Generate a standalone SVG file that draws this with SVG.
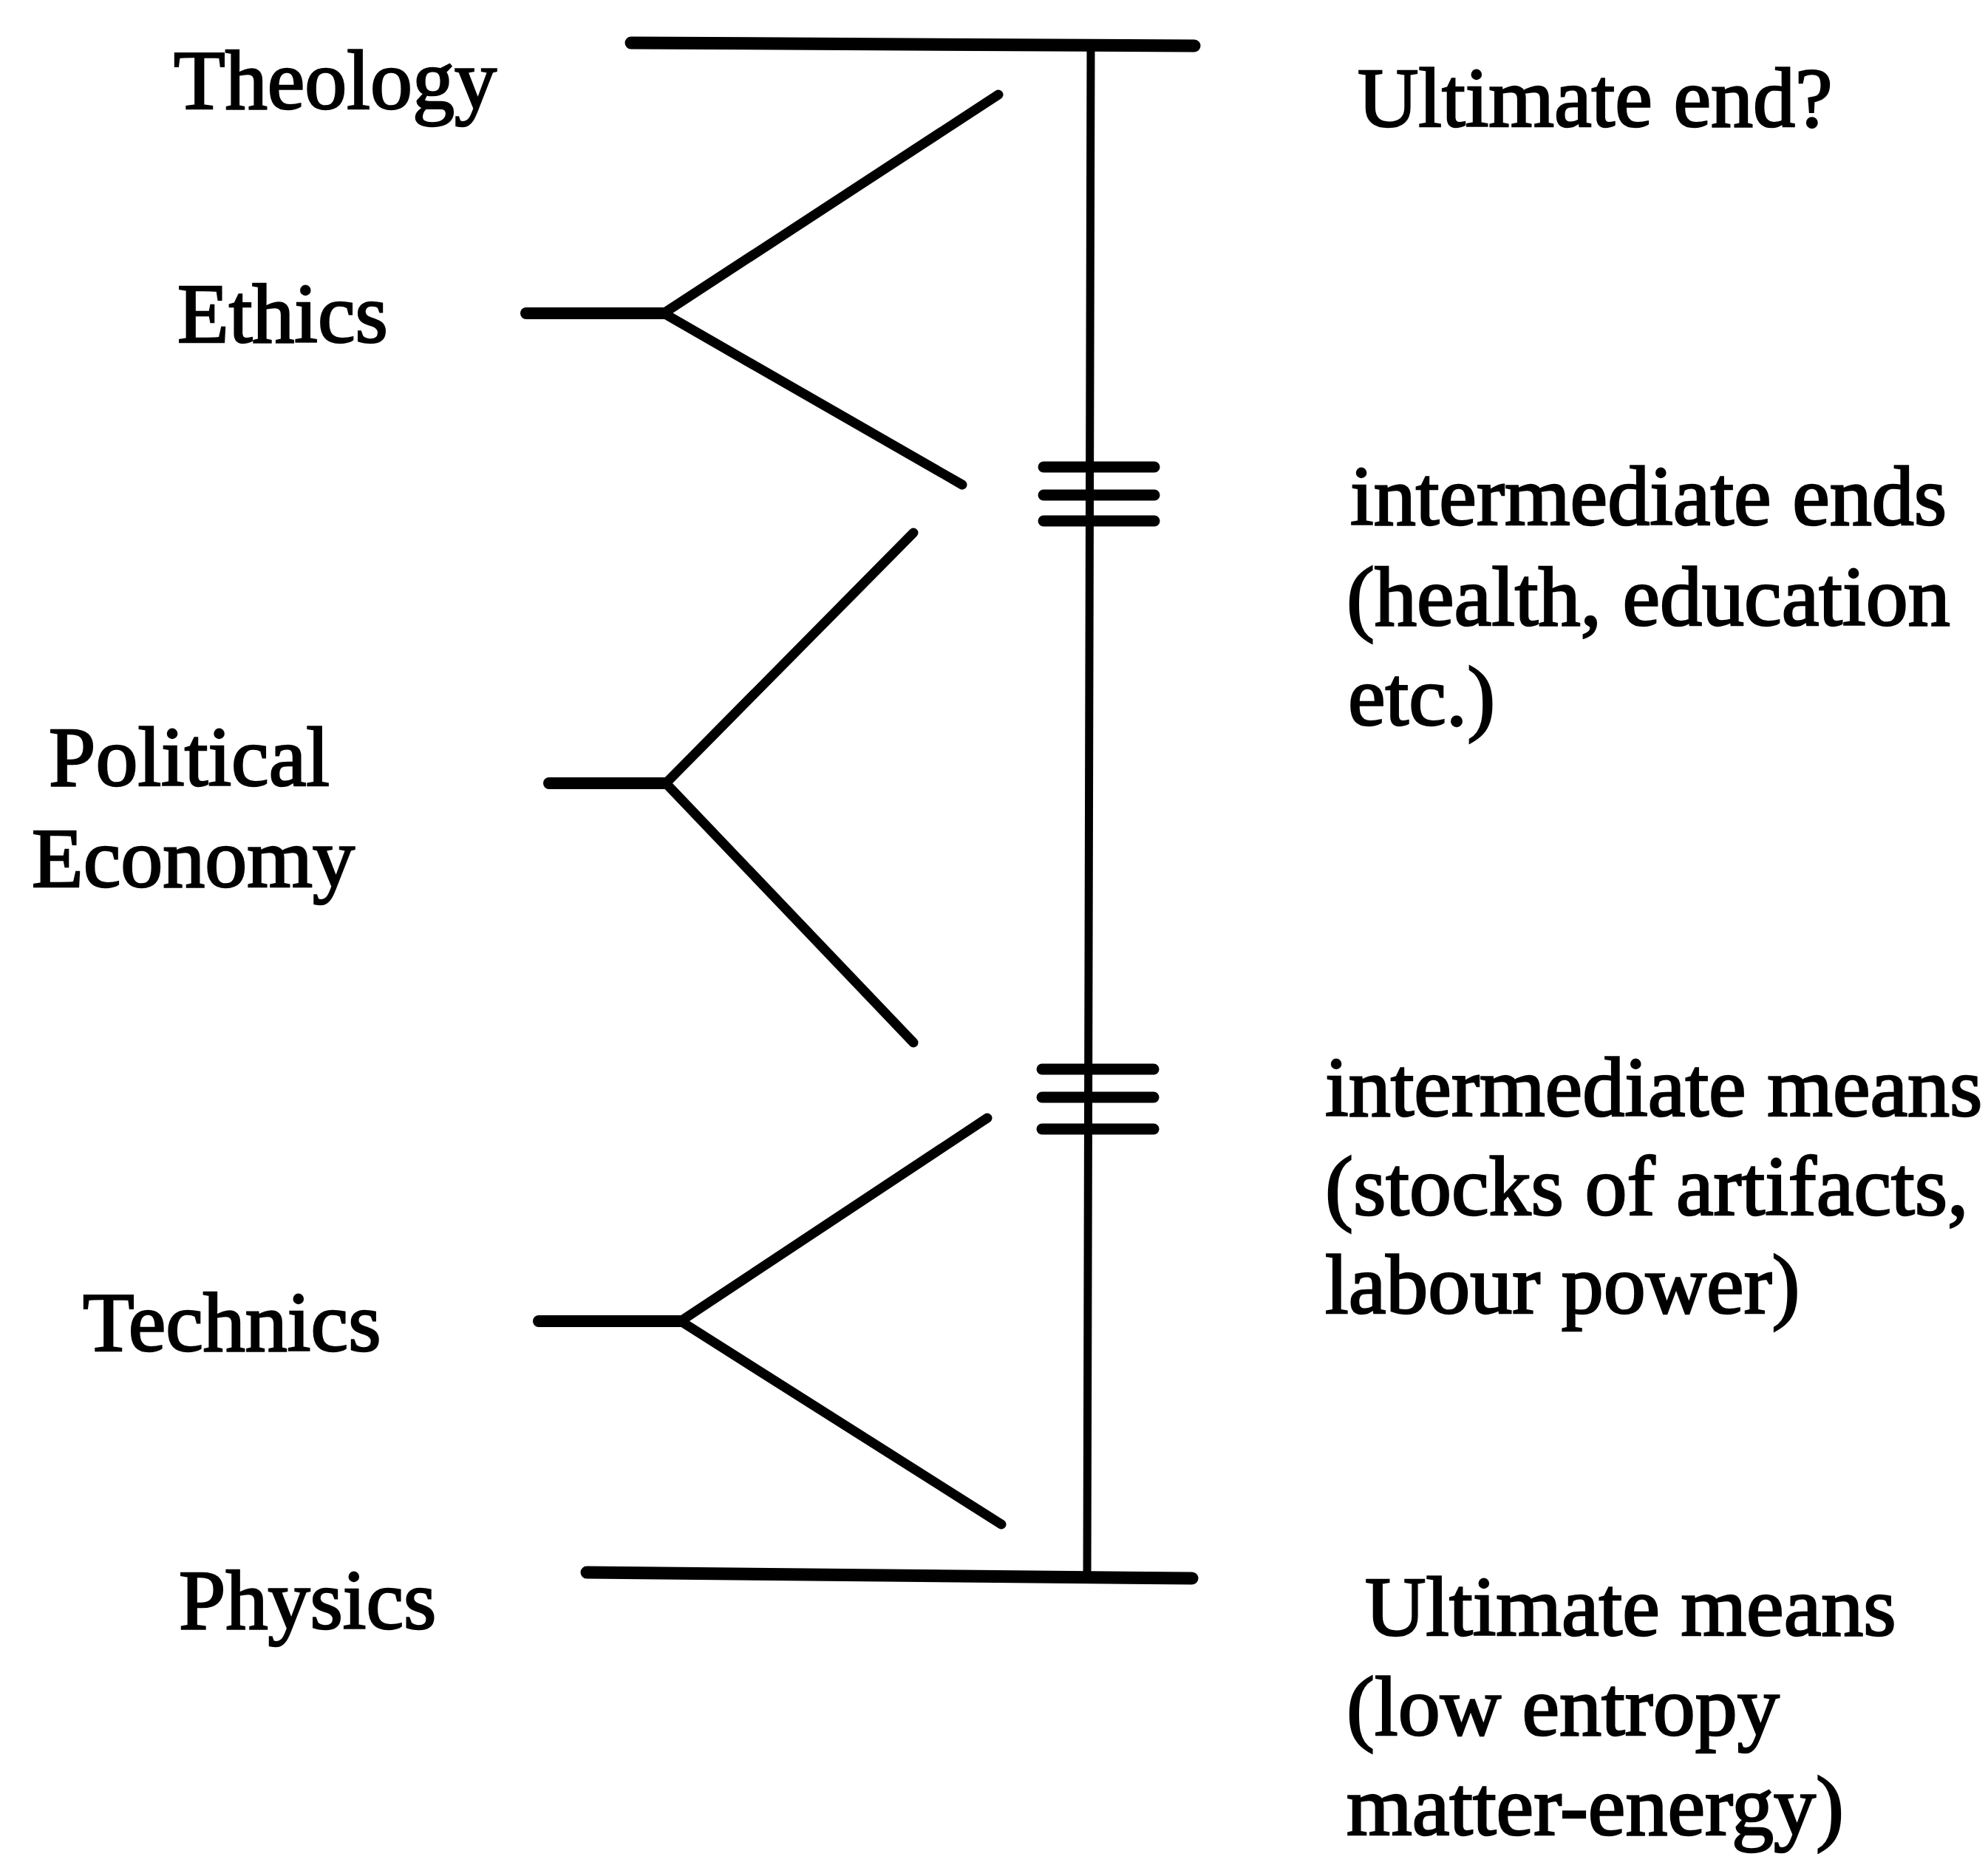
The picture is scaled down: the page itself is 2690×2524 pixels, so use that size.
<svg xmlns="http://www.w3.org/2000/svg" width="2690" height="2524" viewBox="0 0 2690 2524">
<style>
.t{font-family:"Liberation Serif","Times New Roman",serif;font-size:114px;fill:#000;stroke:#000;stroke-width:2.5px}
.ln{stroke:#000;stroke-linecap:round;fill:none}
.bar{stroke-width:17}
.ax{stroke-width:11}
.tick{stroke-width:15}
.stub{stroke-width:16}
.br{stroke-width:13}
</style>
<rect width="2690" height="2524" fill="#fff"/>
<g id="connectors">
  <line class="ln bar" x1="854" y1="58" x2="1616" y2="62"/>
  <line class="ln ax" x1="1476" y1="60" x2="1471" y2="2133"/>
  <line class="ln bar" x1="794" y1="2128" x2="1613" y2="2136"/>
  <g id="ticks-upper">
    <line class="ln tick" x1="1412" y1="632" x2="1562" y2="632"/>
    <line class="ln tick" x1="1412" y1="670" x2="1562" y2="670"/>
    <line class="ln tick" x1="1412" y1="705" x2="1562" y2="705"/>
  </g>
  <g id="ticks-lower">
    <line class="ln tick" x1="1410" y1="1447" x2="1561" y2="1447"/>
    <line class="ln tick" x1="1410" y1="1485" x2="1561" y2="1485"/>
    <line class="ln tick" x1="1410" y1="1528" x2="1561" y2="1528"/>
  </g>
  <g id="fork-ethics">
    <line class="ln stub" x1="712" y1="424" x2="898" y2="424"/>
    <polyline class="ln br" points="1351,128 898,424 1302,656"/>
  </g>
  <g id="fork-political-economy">
    <line class="ln stub" x1="743" y1="1060" x2="901" y2="1060"/>
    <polyline class="ln br" points="1236,721 901,1060 1236,1411"/>
  </g>
  <g id="fork-technics">
    <line class="ln stub" x1="729" y1="1788" x2="921" y2="1788"/>
    <polyline class="ln br" points="1336,1513 921,1788 1355,2063"/>
  </g>
</g>
<g id="theology"><text class="t" x="235" y="147">Theology</text></g>
<g id="ethics"><text class="t" x="240" y="463">Ethics</text></g>
<g id="political-economy"><text class="t" x="66" y="1063">Political</text><text class="t" x="43" y="1200">Economy</text></g>
<g id="technics"><text class="t" x="112" y="1828">Technics</text></g>
<g id="physics"><text class="t" x="242" y="2204">Physics</text></g>
<g id="ultimate-end"><text class="t" x="1837" y="171">Ultimate end?</text></g>
<g id="intermediate-ends"><text class="t" x="1827" y="710">intermediate ends</text><text class="t" x="1822" y="846">(health, education</text><text class="t" x="1824" y="981">etc.)</text></g>
<g id="intermediate-means"><text class="t" x="1793" y="1510">intermediate means</text><text class="t" x="1793" y="1644">(stocks of artifacts,</text><text class="t" x="1793" y="1777">labour power)</text></g>
<g id="ultimate-means"><text class="t" x="1847" y="2213">Ultimate means</text><text class="t" x="1822" y="2348">(low entropy</text><text class="t" x="1822" y="2483">matter-energy)</text></g>
</svg>
